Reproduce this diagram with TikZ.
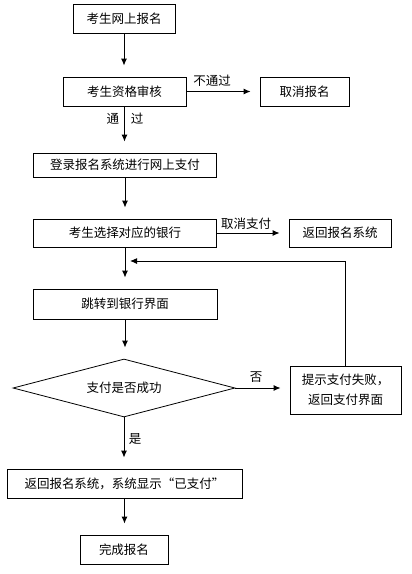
\documentclass[tikz,border=0pt]{standalone}
\usepackage{fontspec}
\setmainfont{Noto Sans CJK SC}
\usetikzlibrary{arrows.meta,shapes.geometric}

\tikzset{
    box/.style={draw, line width=0.8pt, inner sep=0pt, font=\fontsize{12.5}{20}\selectfont, align=center},
    flow/.style={->, line width=1pt, shorten >=11pt},
    lbl/.style={font=\fontsize{12.5}{15}\selectfont, inner sep=0pt}
}

\begin{document}
\begin{tikzpicture}[>={Latex[length=7pt,width=6pt]}, x=1pt, y=-1pt]
    \useasboundingbox (0,0) rectangle (412,574);
    % main column
    \node[box, minimum width=102, minimum height=29] (apply) at (124,18.5) {考生网上报名};
    \node[box, minimum width=123, minimum height=29] (check) at (124.5,91.5) {考生资格审核};
    \node[box, minimum width=89, minimum height=29] (cancel) at (304.5,91.5) {取消报名};
    \node[box, minimum width=183, minimum height=24] (login) at (125,165) {登录报名系统进行网上支付};
    \node[box, minimum width=183, minimum height=28] (bank) at (125,233) {考生选择对应的银行};
    \node[box, minimum width=102, minimum height=28] (back) at (340,233) {返回报名系统};
    \node[box, minimum width=184, minimum height=30] (jump) at (125,304) {跳转到银行界面};
    \node[box, diamond, aspect=3.8, minimum width=222, minimum height=58] (paid) at (124,388) {支付是否成功};
    \node[box, minimum width=111, minimum height=48] (fail) at (345.5,390) {提示支付失败，\\返回支付界面};
    \node[box, minimum width=235, minimum height=29] (show) at (124.5,483.5) {返回报名系统，系统显示“已支付”};
    \node[box, minimum width=88, minimum height=29] (done) at (124,549.5) {完成报名};

    \foreach \a/\b in {apply/check, check/login, login/bank, bank/jump, jump/paid, paid/show, show/done} {
        \draw[flow] (\a.south) -- (\a.south |- \b.north);
    }
    \foreach \a/\b in {check/cancel, bank/back, paid/fail} {
        \draw[flow, shorten >=9pt] (\a.east) -- (\a.east -| \b.west);
    }

    % back to the bank page
    \coordinate (loop) at (125,261);
    \draw[flow, shorten >=5pt] (fail.north) |- (loop);

    % labels
    \node[lbl] (no1) at (212,81) {不通过};
    \node[lbl] (yes1) at (125,119) {通\hspace{12pt}过};
    \node[lbl] (no2) at (246,224) {取消支付};
    \node[lbl] (no3) at (256,377) {否};
    \node[lbl] (yes2) at (135,439) {是};
\end{tikzpicture}
\end{document}
